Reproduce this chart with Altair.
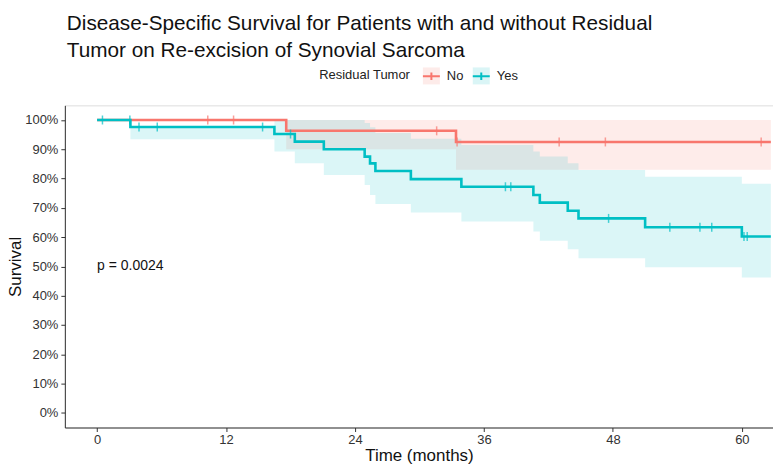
import altair as alt
import pandas as pd

# ---- data ----
groups = ["No", "Yes"]
colors = ["#F8766D", "#00BFC4"]

no_time = [0, 17.6, 33.4, 62.7]
no_surv = [1.0, 0.963, 0.925, 0.925]
no_upper = [1.0, 1.0, 1.0, 1.0]
no_lower = [1.0, 0.90, 0.83, 0.83]
no_censor = [10.3, 12.7, 31.6, 33.5, 43.0, 47.3, 61.8]

yes_time = [0, 3.1, 16.5, 18.4, 21.1, 24.9, 25.4, 25.9, 29.2, 33.9, 40.6, 41.2,
            43.8, 44.8, 51.0, 60.0, 62.7]
yes_surv = [1.0, 0.976, 0.952, 0.926, 0.900, 0.875, 0.852, 0.826, 0.798, 0.772,
            0.744, 0.718, 0.690, 0.664, 0.634, 0.602, 0.602]
yes_upper = [1.0, 0.976, 1.0, 1.0, 1.0, 0.99, 0.975, 0.956, 0.936, 0.915, 0.892,
             0.875, 0.852, 0.829, 0.806, 0.782, 0.782]
yes_lower = [1.0, 0.934, 0.892, 0.852, 0.812, 0.778, 0.744, 0.713, 0.684, 0.653,
             0.619, 0.588, 0.559, 0.528, 0.497, 0.462, 0.462]
yes_censor = [0.5, 3.05, 3.9, 5.6, 15.4, 18.0, 38.0, 38.5, 47.6, 53.3, 56.1, 57.2,
              60.2, 60.5]

x_ticks = [0, 12, 24, 36, 48, 60]
y_ticks = [0, 0.1, 0.2, 0.3, 0.4, 0.5, 0.6, 0.7, 0.8, 0.9, 1.0]
p_label = ["p = 0.0024"]
p_pos = [0.0, 0.5]

FONT = "Liberation Sans"


def curve(name, t, s, u, l):
    return pd.DataFrame({"time": t, "surv": s, "upper": u, "lower": l, "group": name})


def censor_df(name, t_c, t, s):
    vals = []
    for c in t_c:
        v = s[0]
        for ti, si in zip(t, s):
            if ti <= c:
                v = si
        vals.append(v)
    return pd.DataFrame({"time": t_c, "surv": vals, "group": name})


curves = pd.concat([curve("No", no_time, no_surv, no_upper, no_lower),
                    curve("Yes", yes_time, yes_surv, yes_upper, yes_lower)])
cens = pd.concat([censor_df("No", no_censor, no_time, no_surv),
                  censor_df("Yes", yes_censor, yes_time, yes_surv)])
ptext = pd.DataFrame({"time": [p_pos[0]], "surv": [p_pos[1]], "label": p_label})

xscale = alt.Scale(domain=[-3, 62.9], nice=False, zero=False)
yscale = alt.Scale(domain=[-0.05, 1.05], nice=False, zero=False)

xax = alt.Axis(values=x_ticks, title="Time (months)", grid=False, labelFontSize=13,
               titleFontSize=17, labelColor="#333333", titleColor="#111111",
               titleFontWeight="normal", domainColor="#333333", tickColor="#333333",
               labelFont=FONT, titleFont=FONT, tickSize=4, labelPadding=2, titlePadding=1,
               labelOverlap=False)
yax = alt.Axis(values=y_ticks, format=".0%", title="Survival", grid=False, labelFontSize=13,
               titleFontSize=17, labelColor="#333333", titleColor="#111111",
               titleFontWeight="normal", domainColor="#333333", tickColor="#333333",
               labelFont=FONT, titleFont=FONT, tickSize=4, labelPadding=3, titleX=-40,
               labelOverlap=False, labelFlush=False, tickCount=11)

X = alt.X("time:Q", scale=xscale, axis=xax)

base = alt.Chart(curves)

legend_common = dict(orient="none", legendX=255, legendY=-39, direction="horizontal",
                     titleOrient="left", title="Residual Tumor", titleFontSize=13,
                     titleFont=FONT, titleFontWeight="normal", labelFont=FONT,
                     labelFontSize=13, symbolSize=289, columnPadding=5,
                     titlePadding=11, labelOffset=6, symbolStrokeWidth=2)

band = base.mark_area(interpolate="step-after", opacity=0.14).encode(
    x=X,
    y=alt.Y("upper:Q", scale=yscale, axis=yax),
    y2="lower:Q",
    fill=alt.Fill("group:N", scale=alt.Scale(range=colors),
                  legend=alt.Legend(symbolType="square", symbolOpacity=0.14,
                                    symbolStrokeColor="transparent",
                                    titleColor="transparent", labelColor="transparent",
                                    **legend_common)),
)

line = base.mark_line(interpolate="step-after", strokeWidth=2.6).encode(
    x=X,
    y=alt.Y("surv:Q", scale=yscale, axis=yax),
    stroke=alt.Stroke("group:N", scale=alt.Scale(domain=groups, range=colors),
                      legend=alt.Legend(symbolType="M-1,0L1,0M0,-0.45L0,0.45",
                                        titleColor="#222222", labelColor="#222222",
                                        **legend_common)),
)

ticks = alt.Chart(cens).mark_tick(orient="vertical", size=9, thickness=1.5).encode(
    x=X,
    y=alt.Y("surv:Q", scale=yscale, axis=yax),
    color=alt.Color("group:N", scale=alt.Scale(domain=groups, range=colors), legend=None),
)

ptxt = alt.Chart(ptext).mark_text(align="left", baseline="middle", fontSize=14,
                                  font=FONT, color="#111111").encode(
    x=X,
    y=alt.Y("surv:Q", scale=yscale, axis=yax),
    text="label:N",
)

chart = alt.layer(band, line, ticks, ptxt).properties(
    width=710,
    height=323,
    autosize=alt.AutoSizeParams(type="none"),
    padding={"left": 57, "top": 97, "right": 0, "bottom": 41},
    title=alt.TitleParams(
        text=["Disease-Specific Survival for Patients with and without Residual",
              "\u00a0Tumor on Re-excision of Synovial Sarcoma"],
        anchor="start", frame="group", fontSize=20.8, font=FONT, fontWeight="normal",
        color="#111111", lineHeight=27, offset=5, dx=2),
).configure_view(stroke=None).configure(background="white")

chart.save("out.html", embed_options={"renderer": "svg", "actions": False})
